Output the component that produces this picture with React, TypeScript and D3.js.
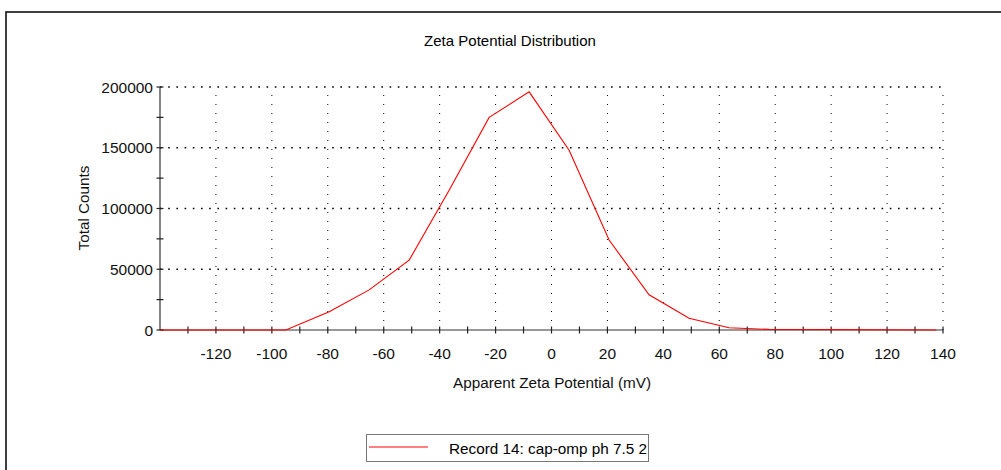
import React from 'react';
import * as d3 from 'd3';

const zeta = [-140, -95, -79.5, -65.2, -50.9, -36.6, -22.3, -8, 6.3, 20.6, 34.9, 49.2, 63.5, 77.8, 137.6];
const counts = [0, 0, 15000, 33000, 57500, 115000, 175000, 196000, 148000, 74000, 29000, 9600, 1900, 500, 0];

const xTicks = [-120, -100, -80, -60, -40, -20, 0, 20, 40, 60, 80, 100, 120, 140];
const xMinor = [-130, -110, -90, -70, -50, -30, -10, 10, 30, 50, 70, 90, 110, 130];
const yTicks = [0, 50000, 100000, 150000, 200000];
const yMinor = [25000, 75000, 125000, 175000];

const title = 'Zeta Potential Distribution';
const xTitle = 'Apparent Zeta Potential (mV)';
const yTitle = 'Total Counts';
const seriesName = 'Record 14: cap-omp ph 7.5 2';

const W = 1001;
const H = 470;
const font = '"Liberation Sans", Arial, sans-serif';

export default function App() {
  const margin = { left: 160, right: 58, top: 87, bottom: 140 };

  const x = d3.scaleLinear().domain([-140, 140]).range([margin.left, W - margin.right]);
  const y = d3.scaleLinear().domain([0, 200000]).range([H - margin.bottom, margin.top]);

  const line = d3
    .line<number>()
    .x((_, i) => x(zeta[i]))
    .y(d => y(d));

  const x0 = x(-140);
  const x1 = x(140);
  const y0 = y(0);
  const y1 = y(200000);

  return (
    <svg
      width={W}
      height={H}
      style={{ position: 'absolute', left: 0, top: 0, background: '#fff' }}
      fontFamily={font}
    >
      {/* outer frame */}
      <rect x={6} y={12} width={1100} height={600} fill="none" stroke="#000" strokeWidth={1.5} />

      <text x={510} y={46} textAnchor="middle" fontSize={15} fill="#000">
        {title}
      </text>

      {/* grid */}
      <g>
        {xTicks.map(t => (
          <line
            key={'gx' + t}
            x1={x(t)}
            x2={x(t)}
            y1={y0}
            y2={y1}
            stroke="#000"
            strokeWidth={1}
            strokeDasharray="1,8"
          />
        ))}
        {yTicks
          .filter(t => t > 0)
          .map(t => (
            <line
              key={'gy' + t}
              x1={x0}
              x2={x1}
              y1={y(t)}
              y2={y(t)}
              stroke="#000"
              strokeWidth={1.6}
              strokeDasharray="1.6,6.6"
            />
          ))}
      </g>

      {/* axes */}
      <line x1={x0} x2={x1} y1={y0} y2={y0} stroke="#333" strokeWidth={1.2} />
      <line x1={x0} x2={x0} y1={y0} y2={y1} stroke="#333" strokeWidth={1.2} />
      {[...xTicks, ...xMinor].map(t => (
        <line key={'tx' + t} x1={x(t)} x2={x(t)} y1={y0 - 3.5} y2={y0 + 3.5} stroke="#222" strokeWidth={1.2} />
      ))}
      {[...yTicks, ...yMinor].map(t => (
        <line key={'ty' + t} x1={x0 - 3.5} x2={x0 + 3.5} y1={y(t)} y2={y(t)} stroke="#222" strokeWidth={1.2} />
      ))}

      {xTicks.map(t => (
        <text key={'lx' + t} x={x(t)} y={y0 + 28.5} textAnchor="middle" fontSize={15.5} fill="#111">
          {t}
        </text>
      ))}
      {yTicks.map(t => (
        <text key={'ly' + t} x={x0 - 7} y={y(t) + 5.5} textAnchor="end" fontSize={15.5} fill="#111">
          {t}
        </text>
      ))}

      <text x={552} y={388} textAnchor="middle" fontSize={15.3} fill="#111">
        {xTitle}
      </text>
      <text
        transform={`translate(89,208) rotate(-90)`}
        textAnchor="middle"
        fontSize={15.3}
        fill="#111"
      >
        {yTitle}
      </text>

      {/* distribution curve */}
      <path d={line(counts) ?? ''} fill="none" stroke="#ff0000" strokeWidth={1.1} />

      {/* legend */}
      <rect x={366.5} y={434.5} width={282} height={27} fill="#fff" stroke="#777" strokeWidth={1} />
      <line x1={369} x2={428} y1={447} y2={447} stroke="#ff0000" strokeWidth={1} />
      <text x={449} y={454} fontSize={15.3} fill="#000">
        {seriesName}
      </text>
    </svg>
  );
}
